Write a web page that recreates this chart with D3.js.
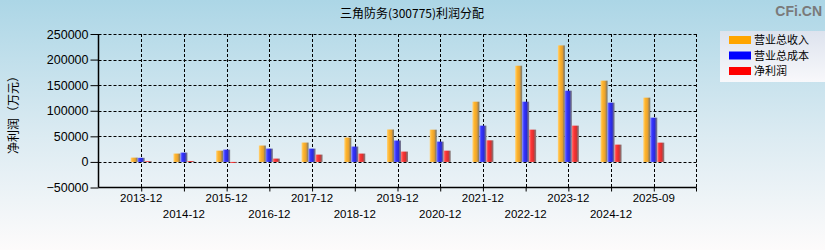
<!DOCTYPE html>
<html><head><meta charset="utf-8">
<script src="https://cdn.jsdelivr.net/npm/d3@7"></script>
<style>body{margin:0;padding:0;overflow:hidden}svg{display:block}</style>
</head><body>
<script>
const categories = ["2013-12","2014-12","2015-12","2016-12","2017-12","2018-12","2019-12","2020-12","2021-12","2022-12","2023-12","2024-12","2025-09"];
const revenue = [8400,16300,22000,32000,37800,47600,63300,63000,117700,188000,227700,158800,125600];
const cost    = [8000,18200,24000,26000,26000,30000,41800,39700,70900,117700,139200,115800,86500];
const profit  = [1500,1800,-2000,6500,14300,16300,20200,22000,42200,63100,70900,33800,37700];
const seriesNames = ["营业总收入","营业总成本","净利润"];
const yTicks = [-50000,0,50000,100000,150000,200000,250000];
const title = "三角防务(300775)利润分配";
const yLabel = "净利润（万元）";

const W = 825, H = 250;
const L = 98.5, R = 696.5, T = 34, B = 187.5;
const svg = d3.select("body").append("svg").attr("width", W).attr("height", H);
const defs = svg.append("defs");
const bg = defs.append("linearGradient").attr("id","bg").attr("x1",0).attr("y1",0).attr("x2",0).attr("y2",1);
bg.append("stop").attr("offset","0").attr("stop-color","#acd6e6");
bg.append("stop").attr("offset","0.55").attr("stop-color","#dcebf2");
bg.append("stop").attr("offset","1").attr("stop-color","#fdfbfb");
svg.append("rect").attr("width",W).attr("height",H).attr("fill","url(#bg)");

const lg = defs.append("linearGradient").attr("id","lg").attr("x1",0).attr("y1",0).attr("x2",0).attr("y2",1);
lg.append("stop").attr("offset","0").attr("stop-color","#dde3ee");
lg.append("stop").attr("offset","1").attr("stop-color","#f8f8fb");

const barStops = [
  [["0","#ffd27a"],["0.3","#ffb42a"],["0.65","#e6a030"],["0.8","#a88850"],["1","#7a7a70"]],
  [["0","#7a7aff"],["0.3","#3434ff"],["0.65","#2a2ad8"],["0.8","#5a5aa0"],["1","#808088"]],
  [["0","#ff7a7a"],["0.3","#ff3434"],["0.65","#d83030"],["0.8","#a05a5a"],["1","#888080"]]
];
barStops.forEach((st,i)=>{
  const g = defs.append("linearGradient").attr("id","bar"+i).attr("x1",0).attr("y1",0).attr("x2",1).attr("y2",0);
  st.forEach(s=>g.append("stop").attr("offset",s[0]).attr("stop-color",s[1]));
});

const x = d3.scalePoint().domain(categories).range([L, R]).padding(1);
const y = d3.scaleLinear().domain([-50000, 250000]).range([B, T]);

// grid
const grid = svg.append("g").attr("stroke","#000").attr("stroke-dasharray","3,2").attr("stroke-width",1);
yTicks.filter(v=>v>-50000).forEach(v=>{
  grid.append("line").attr("x1",L).attr("x2",R).attr("y1",Math.round(y(v))+0.5).attr("y2",Math.round(y(v))+0.5);
});
categories.forEach(c=>{
  grid.append("line").attr("x1",Math.round(x(c))+0.5).attr("x2",Math.round(x(c))+0.5).attr("y1",T).attr("y2",B);
});
grid.append("line").attr("x1",R).attr("x2",R).attr("y1",T).attr("y2",B);

// bars
const series = [revenue, cost, profit];
const bw = 7, offs = [-10.5, -3.5, 3.5];
series.forEach((vals,si)=>{
  svg.append("g").selectAll("rect").data(vals).join("rect")
    .attr("x",(d,i)=>x(categories[i]) + offs[si])
    .attr("width",bw)
    .attr("y",d=>Math.min(y(d), y(0)))
    .attr("height",d=>Math.abs(y(d)-y(0)))
    .attr("fill","url(#bar"+si+")");
});

// axes
const yAxis = svg.append("g").attr("transform",`translate(${L},0)`)
  .call(d3.axisLeft(y).tickValues(yTicks).tickFormat(d3.format("d")).tickSize(8).tickPadding(2));
const xAxis = svg.append("g").attr("transform",`translate(0,${B})`)
  .call(d3.axisBottom(x).tickSize(4).tickFormat(""));
svg.append("line").attr("x1",R).attr("x2",R).attr("y1",B).attr("y2",B+4).attr("stroke","#000");
[yAxis,xAxis].forEach(a=>{
  a.select(".domain").attr("stroke","#000").attr("stroke-width",1.5);
  a.selectAll(".tick line").attr("stroke","#000");
});
yAxis.select(".domain").attr("d",`M0,${T}V${B}`);
xAxis.select(".domain").attr("d",`M${L},0H${R}`);
yAxis.selectAll("text").attr("font-family","Liberation Sans, Arial, sans-serif").attr("font-size",12.5).attr("fill","#000");

svg.append("g").selectAll("text").data(categories).join("text")
  .attr("x",d=>x(d)).attr("y",(d,i)=> i%2===0 ? 201.5 : 217.5)
  .attr("text-anchor","middle").attr("font-family","Liberation Sans, Arial, sans-serif")
  .attr("font-size",11.5).attr("fill","#000").text(d=>d);

// title
svg.append("text").attr("x",412).attr("y",18).attr("text-anchor","middle")
  .attr("font-family","Noto Sans CJK SC, sans-serif").attr("font-size",12).attr("fill","#000").text(title);
// y label
svg.append("text").attr("transform","translate(18,112) rotate(-90)").attr("text-anchor","middle")
  .attr("font-family","Noto Sans CJK SC, sans-serif").attr("font-size",12).attr("fill","#000").text(yLabel);
// watermark
svg.append("text").attr("x",822).attr("y",16).attr("text-anchor","end")
  .attr("font-family","Liberation Sans, Arial, sans-serif").attr("font-weight","bold").attr("font-size",14)
  .attr("fill","#7a7a7a").text("CFi.CN");

// legend
const leg = svg.append("g");
leg.append("rect").attr("x",720).attr("y",31).attr("width",105).attr("height",51).attr("fill","url(#lg)");
const legColors = ["#ffa500","#0000ff","#ff0000"];
seriesNames.forEach((n,i)=>{
  leg.append("rect").attr("x",729).attr("y",36+i*15.5).attr("width",22).attr("height",8).attr("fill",legColors[i]);
  leg.append("text").attr("x",754).attr("y",44+i*15.5).attr("font-family","Noto Sans CJK SC, sans-serif")
    .attr("font-size",11).attr("fill","#000").text(n);
});
</script>
</body></html>
